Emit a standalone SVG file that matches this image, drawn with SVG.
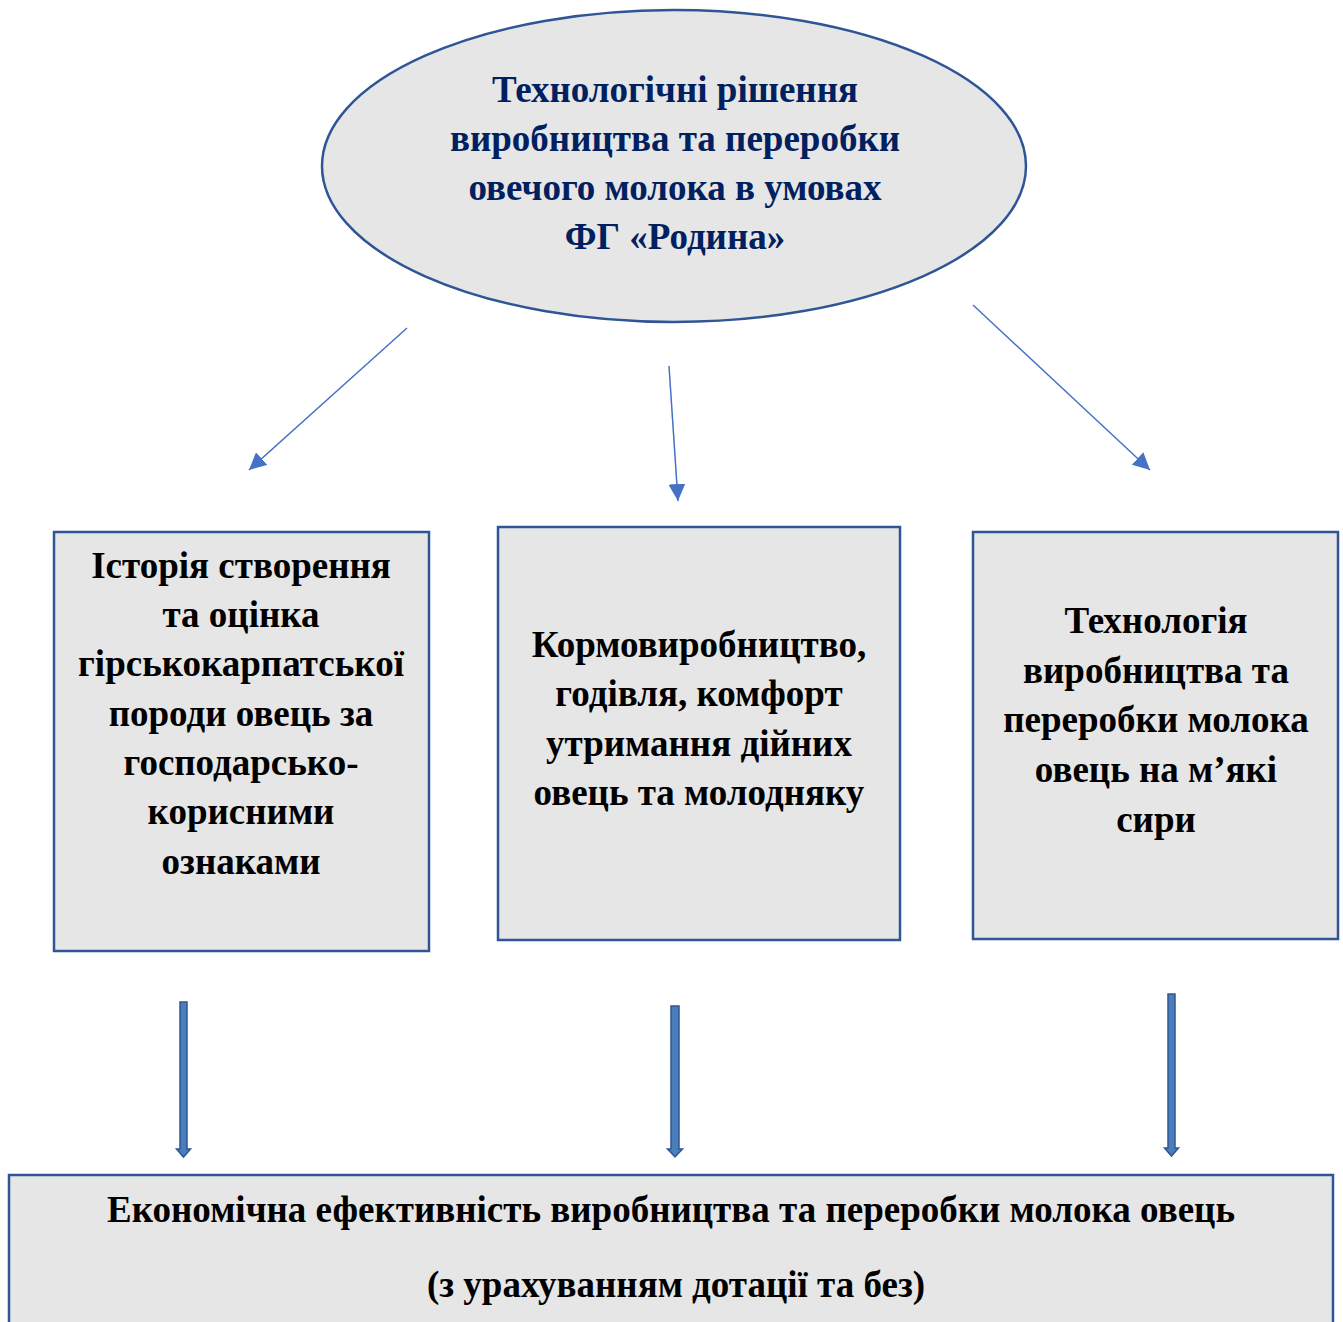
<svg xmlns="http://www.w3.org/2000/svg" width="1343" height="1322" viewBox="0 0 1343 1322">
<style>
.box{fill:#e6e6e6;stroke:#2f5597;stroke-width:2.5}
.t{font-family:"Liberation Serif","Times New Roman",serif;font-weight:bold;font-size:37px;text-anchor:middle;fill:#000}
.tt{fill:#002060}
.thin{stroke:#4472c4;stroke-width:1.5;fill:none}
.blk{fill:#4a7ebb;stroke:#2f5597;stroke-width:1.5}
</style>
<defs>
<marker id="ah" viewBox="0 0 10 10" refX="10" refY="5" markerWidth="17" markerHeight="17" markerUnits="userSpaceOnUse" orient="auto"><path d="M0,0 L10,5 L0,10 z" fill="#4472c4"/></marker>
</defs>
<rect width="1343" height="1322" fill="#fff"/>
<g id="top">
<ellipse cx="674" cy="166" rx="352" ry="156" fill="#e6e6e6" stroke="#2f5597" stroke-width="2.5"/>
<text class="t tt" x="675" y="102">Технологічні рішення</text>
<text class="t tt" x="675" y="151">виробництва та переробки</text>
<text class="t tt" x="675" y="200">овечого молока в умовах</text>
<text class="t tt" x="675" y="249">ФГ «Родина»</text>
</g>
<g id="n1">
<rect class="box" x="54" y="532" width="375" height="419"/>
<text class="t" x="241" y="578">Історія створення</text>
<text class="t" x="241" y="627">та оцінка</text>
<text class="t" x="241" y="676">гірськокарпатської</text>
<text class="t" x="241" y="726">породи овець за</text>
<text class="t" x="241" y="775">господарсько-</text>
<text class="t" x="241" y="824">корисними</text>
<text class="t" x="241" y="874">ознаками</text>
</g>
<g id="n2">
<rect class="box" x="498" y="527" width="402" height="413"/>
<text class="t" x="699" y="657">Кормовиробництво,</text>
<text class="t" x="699" y="706">годівля, комфорт</text>
<text class="t" x="699" y="756">утримання дійних</text>
<text class="t" x="699" y="805">овець та молодняку</text>
</g>
<g id="n3">
<rect class="box" x="973" y="532" width="365" height="407"/>
<text class="t" x="1156" y="633">Технологія</text>
<text class="t" x="1156" y="683">виробництва та</text>
<text class="t" x="1156" y="732">переробки молока</text>
<text class="t" x="1156" y="782">овець на м’які</text>
<text class="t" x="1156" y="832">сири</text>
</g>
<g id="bottom">
<rect class="box" x="9" y="1175" width="1324" height="160"/>
<text class="t" x="671" y="1222">Економічна ефективність виробництва та переробки молока овець</text>
<text class="t" x="676" y="1297">(з урахуванням дотації та без)</text>
</g>
<g id="connectors">
<line class="thin" x1="407" y1="328" x2="249" y2="470" marker-end="url(#ah)"/>
<line class="thin" x1="669" y1="366" x2="678" y2="501" marker-end="url(#ah)"/>
<line class="thin" x1="973" y1="305" x2="1150" y2="470" marker-end="url(#ah)"/>
<path class="blk" d="M180,1002 H187 V1149 H190.5 L183.5,1157 L176.5,1149 H180 Z"/>
<path class="blk" d="M671,1006 H679 V1149 H682.5 L675,1157 L667.5,1149 H671 Z"/>
<path class="blk" d="M1168,994 H1175 V1148 H1178.5 L1171.5,1156 L1164.5,1148 H1168 Z"/>
</g>
</svg>
